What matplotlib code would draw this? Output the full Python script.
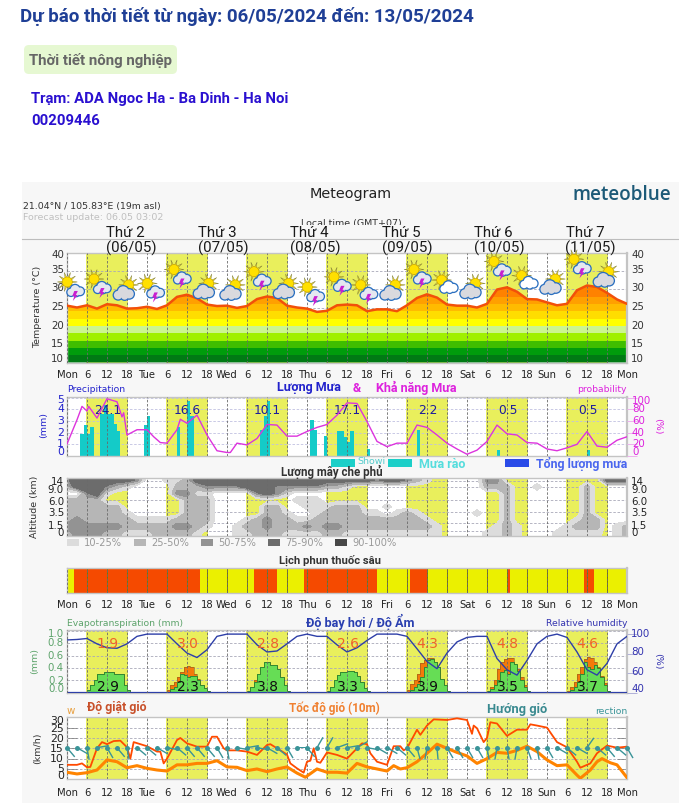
# -*- coding: utf-8 -*-
"""
Meteogram page, 7 days, time axis in hours from Monday 00:00
"""
import numpy as np
from matplotlib import pyplot as plt
from matplotlib.patches import Circle, FancyBboxPatch, Polygon, Rectangle
from matplotlib.transforms import Bbox

W, H = 679, 807

# time axes
hours_3h = list(range(0, 169, 3))
tick_hours = list(range(0, 169, 6))
tick_labels = ['Mon', '6', '12', '18', 'Tue', '6', '12', '18', 'Wed', '6', '12', '18', 'Thu', '6', '12', '18',
               'Fri', '6', '12', '18', 'Sat', '6', '12', '18', 'Sun', '6', '12', '18', 'Mon']
day_starts = [5.7, 29.7, 53.7, 77.7, 101.7, 125.7, 149.7]
day_ends = [18.2, 42.2, 66.2, 90.2, 114.2, 138.2, 162.2]
day_names = ['Thứ 2', 'Thứ 3', 'Thứ 4', 'Thứ 5', 'Thứ 6', 'Thứ 7']
day_dates = ['(06/05)', '(07/05)', '(08/05)', '(09/05)', '(10/05)', '(11/05)']

# temperature
temp = [25.5, 25.0, 25.6, 24.7, 25.9, 25.6, 24.7, 24.8, 25.2, 24.6, 25.6, 27.9, 28.5, 27.5, 25.8, 25.4,
        25.5, 24.9, 25.4, 27.3, 28.0, 27.6, 25.5, 25.0, 24.7, 23.8, 24.1, 25.6, 25.8, 25.6, 24.0, 24.5,
        24.5, 24.0, 25.6, 27.6, 28.6, 27.7, 25.8, 25.5, 25.5, 25.0, 26.0, 29.9, 30.5, 29.3, 27.3, 27.2,
        26.4, 25.6, 26.0, 29.7, 31.0, 30.6, 29.0, 27.2, 26.0]
temp_bands = [10, 12, 14, 16, 18, 20, 22, 24, 26, 28, 32]
temp_colors = ['#007a14', '#009c0c', '#3fbe00', '#a0f000', '#ccf590', '#ffff00', '#ffdd00', '#ffbb00',
               '#ffa000', '#ff8200']

# icons
icon_hours = [1, 9, 17, 25, 33, 41, 49, 57, 65, 73, 81, 89, 97, 105, 113, 121, 129, 137, 145, 153, 161]
icon_temp = [30.6, 31.4, 29.8, 30.2, 34.0, 30.2, 29.8, 33.4, 30.2, 29.2, 32.0, 29.8, 29.8, 34.0, 31.4,
             30.2, 36.2, 32.6, 31.4, 36.8, 33.4]
icon_kinds = ['storm', 'storm', 'dark', 'storm', 'storm', 'dark', 'dark', 'storm', 'dark', 'storm', 'storm',
              'storm', 'dark', 'storm', 'light', 'dark', 'storm', 'light', 'dark', 'storm', 'dark']

# precipitation
rain_hours = [4, 5, 6, 7, 10, 11, 12, 13, 14, 15, 23, 24, 33, 36, 37, 58, 59, 60, 73, 74, 77,
              81, 82, 83, 84, 85, 90, 105, 129, 156]
rain_mm = [1.9, 2.65, 1.9, 2.45, 3.6, 4.4, 3.6, 3.6, 2.75, 2.15, 2.65, 3.45, 2.45, 4.7, 3.4, 2.2, 3.4, 4.7,
           3.1, 2.2, 1.75, 2.15, 2.15, 1.65, 1.2, 2.1, 0.6, 2.2, 0.5, 0.5]
rain_sum = ['24.1', '16.6', '10.1', '17.1', '2.2', '0.5', '0.5']
prob_hours = [0, 3, 4.5, 6, 6.5, 9, 12, 15, 16.5, 17, 18, 21, 24, 26, 28, 30, 33, 34, 36, 39, 42, 45, 48, 49,
              51, 54, 57, 60, 63, 66, 69, 72, 75, 78, 81, 84, 87, 90, 93, 96, 99, 102, 105, 108, 111, 114,
              117, 120, 123, 126, 129, 132, 135, 138, 141, 144, 147, 150, 153, 156, 159, 162, 165, 168]
prob = [20.6, 62, 85, 77, 85, 65, 98, 93, 67, 74, 36, 45, 45, 33, 23, 22, 45, 63, 56, 70, 36, 9, 6, 6,
        22, 19, 30, 54, 53, 34, 34, 42, 49, 54, 70, 91, 90, 59, 25, 16, 22, 22, 53, 49, 36, 22,
        12, 3, 10, 25, 53, 38, 36, 23, 22, 12, 9, 14, 20, 42, 17, 15, 27, 33]

# cloud cover class per altitude row (top to bottom), 3 hourly
cloud_rows = [
    '34444443' '00112444' '44444444' '44444443' '44321000' '00330000' '00000044' '4',
    '24443210' '00022233' '33444333' '33221000' '00000000' '00222001' '00002000' '0',
    '00341000' '00033110' '00034310' '00000000' '00000000' '00002000' '00002000' '0',
    '22220000' '00002220' '00000001' '11000000' '00000000' '00002000' '00002000' '0',
    '22222200' '00002220' '00002200' '11122200' '10000000' '00002000' '00002000' '0',
    '22222210' '00002220' '00002210' '01222211' '01210000' '01002000' '00002000' '0',
    '23222221' '11122220' '00123221' '12222222' '22221000' '00002000' '00012200' '0',
    '33333322' '22233210' '01223222' '32332222' '22222100' '00012100' '00122201' '2',
    '23332211' '12222100' '01122211' '11221111' '11111100' '00112100' '01111101' '2',
]
cloud_colors = ['#dcdcdc', '#b6b6b6', '#939393', '#6c6c6c', '#474747']
cloud_ticks = ['14', '9.0', '6.0', '3.5', '1.5', '0']
cloud_legend = ['10-25%', '25-50%', '50-75%', '75-90%', '90-100%']

# spraying windows, orange = no spray
spray_start = [2, 56, 71, 103, 132, 155]
spray_stop = [40, 63, 93, 108, 133, 158]

# evapotranspiration, hourly from 6 to 18 each day
et_days = [6, 30, 54, 78, 102, 126, 150]
et_actual = [
    [.05, .12, .20, .30, .30, .34, .33, .33, .31, .31, .31, .12, .04],
    [.01, .06, .10, .17, .30, .28, .26, .27, .27, .20, .13, .07, .02],
    [.03, .10, .18, .30, .42, .50, .50, .45, .45, .38, .25, .12, .03],
    [.03, .10, .20, .28, .33, .34, .35, .35, .33, .27, .17, .08, .02],
    [.01, .05, .10, .14, .25, .42, .53, .55, .50, .42, .23, .12, .02],
    [.02, .06, .13, .20, .33, .36, .30, .50, .47, .35, .20, .10, .02],
    [.01, .05, .10, .18, .30, .50, .42, .38, .45, .40, .25, .13, .02],
]
et_potential = [
    [.05, .12, .20, .30, .30, .34, .33, .33, .31, .31, .31, .12, .04],
    [.04, .12, .18, .26, .34, .42, .43, .42, .31, .23, .13, .07, .02],
    [.03, .10, .20, .31, .42, .50, .50, .45, .45, .38, .25, .12, .03],
    [.03, .10, .20, .28, .33, .34, .35, .35, .33, .27, .17, .08, .02],
    [.04, .14, .20, .31, .48, .53, .56, .57, .50, .42, .23, .12, .02],
    [.03, .10, .20, .38, .50, .55, .57, .57, .45, .38, .25, .12, .03],
    [.03, .10, .18, .30, .42, .55, .58, .57, .50, .42, .27, .15, .03],
]
et_potential_sum = ['1.9', '3.0', '2.8', '2.6', '4.3', '4.8', '4.6']
et_actual_sum = ['2.9', '2.3', '3.8', '3.3', '3.9', '3.5', '3.7']
humidity = [94, 94.5, 95.5, 90, 86, 85.5, 90, 97.7, 100, 100, 100, 90, 80.6, 76, 84, 97.7,
            100, 100, 100, 89, 81.7, 82.7, 90, 97.7, 100, 97.7, 97.7, 89, 81.7, 86, 93.5, 100,
            100, 100, 97.7, 85, 72, 64.6, 80.6, 92, 96.6, 97.7, 97.7, 75, 63.5, 58, 73, 90,
            97.7, 100, 96.6, 81.7, 63.5, 58, 70, 90, 97.7]

# wind
gust_hours = [0, 3, 4.5, 6, 7, 9, 10.5, 12, 14, 16, 18, 19, 20, 24, 27, 28, 29, 30, 33, 34, 36, 39, 42, 43.5, 45,
              47, 48, 51, 54, 57, 60, 61, 63, 66, 67, 69, 71, 72, 73, 74, 75, 76, 78, 81, 84, 87, 88.5, 90, 91,
              93, 96, 98, 100, 101, 102, 105, 106, 108, 110, 114, 117, 120, 121.5, 122, 123, 125, 126, 127, 129,
              132, 135, 138, 139, 141, 144, 147, 150, 153, 154, 157, 159, 162, 165, 168]
gust = [7, 7, 7.7, 5.8, 6, 15, 18, 17, 18.5, 18.7, 15.5, 10, 18, 16, 13.4, 13.4, 7.7, 10, 19, 20, 17.4, 15.8,
        15.8, 20.6, 20.6, 15, 14, 14, 13.4, 11.8, 16.6, 17, 15, 12, 7.7, 5.3, 3.2, 8.5, 9, 15, 8.5, 8, 13,
        11.8, 10, 15, 17.4, 17, 12.6, 8.5, 7, 16, 16, 14, 15, 24, 21.5, 26, 29, 28.7, 29.5, 28.7, 22, 26, 24.7,
        18, 20, 27.6, 27, 21, 24, 24, 26.6, 26, 25, 18, 15.5, 8.5, 5.6, 7.7, 12.6, 16.3, 15.3, 15.8]
speed_hours = [0, 3, 6, 9, 12, 15, 18, 21, 24, 27, 30, 33, 36, 39, 42, 45, 48, 51, 54, 57, 60, 63, 66, 69, 71.5,
               75, 78, 81, 84, 87, 90, 93, 96, 98, 100, 102, 105, 108, 111, 114, 117, 120, 123, 126, 129, 132,
               135, 138, 141, 144, 147, 150, 153, 154, 157, 159, 160.5, 163, 165, 168]
speed = [3.4, 2.6, 3.2, 4.5, 9.4, 8.5, 5.6, 6.6, 5.3, 4.5, 4, 7, 7, 7.7, 7.7, 9, 6, 5.8, 4.2, 5, 3.7, 5, 6, 3, 1,
         5, 3.4, 3.4, 3, 7.7, 6, 5, 4, 6.6, 5, 5.6, 8.5, 12.6, 17, 15, 13, 11.3, 7.7, 10, 13, 12.6,
         14, 16, 13.4, 9.4, 6.6, 7, 2, 0.5, 4.5, 8.5, 10, 8, 7, 0.8]
wind_dir = [140, 120, 170, 80, 150, 140, 170, 130, 130, 120, 100, 130, 140, 140, 140, 150,
            170, 100, 80, 100, 120, 130, 150, 90, 140, 30, 30, 70, 80, 60, 100, 120,
            120, 130, 140, 165, 190, 175, 150, 150, 150, 150, 170, 190, 170, 190, 160, 170,
            150, 120, 130, 120, 35, 130, 140, 130, 150]

# colours
BG = '#f7f7f7'
SUN = '#e9ef5c'
BLUE = '#2222cc'
MAGENTA = '#dd22dd'
GREEN_TXT = '#5da36b'
TEAL = '#3a9498'
RED = '#ff4a00'
ORANGE = '#ff8400'

plt.rcParams['font.family'] = ['DejaVu Sans']
fig = plt.figure(figsize=(W / 100, H / 100), dpi=100, facecolor='white')

# overlay in pixel coordinates for the page furniture
back = fig.add_axes([0, 0, 1, 1], zorder=0)
back.set_xlim(0, W)
back.set_ylim(H, 0)
back.axis('off')
over = fig.add_axes([0, 0, 1, 1], zorder=20)
over.set_xlim(0, W)
over.set_ylim(H, 0)
over.axis('off')
over.patch.set_alpha(0)


def hour_px(h):
    return 67 + h * 560 / 168


def panel(top, bottom, ylim, yvals, sun=True, hgrid='#a8a8b8'):
    ax = fig.add_axes([67 / W, 1 - bottom / H, 560 / W, (bottom - top) / H], zorder=5)
    ax.set_xlim(0, 168)
    ax.set_ylim(*ylim)
    ax.set_facecolor('white')
    if sun:
        for s, e in zip(day_starts, day_ends):
            ax.axvspan(s, e, color=SUN, lw=0, zorder=0)
    ax.set_xticks(tick_hours)
    ax.set_xticklabels([])
    ax.set_yticks(yvals)
    ax.set_yticklabels([])
    ax.tick_params(length=0)
    # horizontal dashes sit low, under the temperature colours, verticals stay on top
    for y in yvals:
        ax.axhline(y, color=hgrid, lw=0.6, ls=(0, (3, 2)), zorder=0.5)
    for h in tick_hours:
        ax.axvline(h, color='#6a6a6a', lw=0.6, ls=(0, (3, 2)), zorder=2.8)
    for side in ['top', 'left', 'right', 'bottom']:
        ax.spines[side].set_color('#c4c4c4')
        ax.spines[side].set_linewidth(1.0)
    ax.spines['right'].set_linewidth(1.6)
    return ax


def xlabels(y):
    for h, lab in zip(tick_hours, tick_labels):
        over.text(hour_px(h), y, lab, ha='center', va='center', fontsize=7.2, color='#222222')


def draw_sun(cx, cy, r=5.0):
    for a in np.arange(0, 360, 36):
        a0 = np.radians(a)
        da = np.radians(14)
        over.add_patch(Polygon([[cx + (r - 1) * np.cos(a0 - da), cy + (r - 1) * np.sin(a0 - da)],
                                [cx + (r + 5) * np.cos(a0), cy + (r + 5) * np.sin(a0)],
                                [cx + (r - 1) * np.cos(a0 + da), cy + (r - 1) * np.sin(a0 + da)]],
                               fc='#f2dc28', ec='#77773c', lw=0.3, zorder=3))
    over.add_patch(Circle((cx, cy), r, fc='#ffe000', ec='#c8a000', lw=0.4, zorder=4))


def draw_cloud(cx, cy, sx, fc):
    # outline first, fill on top, so the lobes read as one cloud
    lobes = [(-6.5, 2.2, 4.3), (-1.5, -1.2, 5.4), (4.5, 1, 4.6), (0, 3.2, 3.6)]
    for dx, dy, r in lobes:
        over.add_patch(Circle((cx + dx * sx, cy + dy * sx), r * sx + 1.3, fc='#2a6fc0', ec='none', zorder=5))
    for dx, dy, r in lobes:
        over.add_patch(Circle((cx + dx * sx, cy + dy * sx), r * sx, fc=fc, ec='none', zorder=6))


def draw_icon(cx, cy, kind):
    if kind == 'storm':
        draw_sun(cx - 3, cy - 5)
        draw_cloud(cx + 6, cy + 3.5, 0.82, '#e4e8f0')
        over.add_patch(Polygon([[cx + 4, cy + 4], [cx + 7.5, cy + 4], [cx + 5.5, cy + 8], [cx + 7.5, cy + 8],
                                [cx + 2.5, cy + 14], [cx + 4, cy + 9], [cx + 2, cy + 9]],
                               fc='#c81fd0', ec='none', zorder=7))
    elif kind == 'dark':
        draw_sun(cx + 5, cy - 5)
        draw_cloud(cx + 1, cy + 3, 1.0, '#d9d9de')
    else:
        draw_sun(cx - 2, cy - 4)
        draw_cloud(cx + 6, cy + 3, 0.85, '#ffffff')


# page header
over.text(20, 17, 'Dự báo thời tiết từ ngày: 06/05/2024 đến: 13/05/2024', family='Roboto', weight='bold',
          fontsize=13.5, color='#1f3f96', va='center')
back.add_patch(FancyBboxPatch((28, 49), 145, 21, boxstyle='round,pad=4,rounding_size=5', fc='#e6f8d2', ec='none'))
over.text(29, 61, 'Thời tiết nông nghiệp', family='Roboto', weight='bold', fontsize=10.8, color='#666666', va='center')
over.text(31, 99, 'Trạm: ADA Ngoc Ha - Ba Dinh - Ha Noi', family='Roboto', weight='bold', fontsize=10.75,
          color='#2a10d0', va='center')
over.text(31, 121, '00209446', family='Roboto', weight='bold', fontsize=10.75, color='#2a10d0', va='center')

# chart header
back.add_patch(Rectangle((22, 182), W - 22, 621, fc=BG, ec='none'))
back.plot([22, W], [238.5, 238.5], color='#bdbdbd', lw=0.8)
over.text(351, 194, 'Meteogram', ha='center', va='center', fontsize=10.4, color='#222222')
over.text(671, 195, 'meteoblue', ha='right', va='center', fontsize=13.6, color='#1d5a78', weight=600,
          family='Open Sans')
over.text(23, 207, '21.04°N / 105.83°E (19m asl)', va='center', fontsize=6.75, color='#333333')
over.text(23, 217, 'Forecast update: 06.05 03:02', va='center', fontsize=6.8, color='#c0c0c0')
# only the top half of this label shows in the picture
local = over.text(351, 223.5, 'Local time (GMT+07)', ha='center', va='center', fontsize=6.8, color='#333333')
local.set_clip_on(True)
local.set_clip_box(Bbox.from_extents(250, H - 224.5, 450, H - 210))
for i, (name, date) in enumerate(zip(day_names, day_dates)):
    x = 106 + i * 91.9
    over.text(x, 233, name, family='Roboto', fontsize=10.8, color='#1a1a1a', va='center')
    over.text(x, 248, date, family='Roboto', fontsize=10.8, color='#1a1a1a', va='center')

# temperature, colour bands clipped to the area under the curve
ax_t = panel(252.5, 362.5, (10, 40), [10, 15, 20, 25, 30, 35, 40])
under = ax_t.fill_between(hours_3h, 10, temp, color='none', lw=0)
for lo, hi, c in zip(temp_bands[:-1], temp_bands[1:], temp_colors):
    band = ax_t.axhspan(lo, hi, color=c, lw=0, zorder=1.5)
    band.set_clip_path(under.get_paths()[0], transform=ax_t.transData)
ax_t.plot(hours_3h, temp, color='#f2500a', lw=1.8, zorder=3)
for lab, y in zip(['10', '15', '20', '25', '30', '35', '40'], [359, 344, 326, 307, 288, 270, 255]):
    over.text(64, y, lab, ha='right', va='center', fontsize=7.4, color='#333333')
    over.text(631, y, lab, ha='left', va='center', fontsize=7.4, color='#333333')
over.text(38, 307, 'Temperature (°C)', rotation=90, ha='center', va='center', fontsize=6.8, color='#333333')
xlabels(375)
for h, tt, kind in zip(icon_hours, icon_temp, icon_kinds):
    draw_icon(hour_px(h), 362.5 - (tt - 10) * 110 / 30, kind)

# precipitation
ax_r = panel(396.7, 456, (0, 5.08), [0, 1, 2, 3, 4, 5], hgrid='#c0c0e0')
ax_r.bar(rain_hours, rain_mm, width=1.0, align='edge', color='#14cbc8', lw=0, zorder=2)
ax_p = ax_r.twinx()
ax_p.set_zorder(6)
ax_p.set_ylim(0, 101.6)
ax_p.plot(prob_hours, prob, color='#dd33dd', lw=1.0, zorder=3)
ax_p.set_yticks([0, 20, 40, 60, 80, 100])
ax_p.set_yticklabels([])
ax_p.tick_params(length=7, color='#eeb0ee', width=0.7)
for side in ax_p.spines:
    ax_p.spines[side].set_visible(False)
for lab, y in zip(['5', '4', '3', '2', '1', '0'], [400, 409, 421, 433, 444, 452]):
    over.text(64, y, lab, ha='right', va='center', fontsize=7.8, color=BLUE)
for lab, y in zip(['100', '80', '60', '40', '20', '0'], [401, 409, 421, 433, 444, 452]):
    over.text(632, y, lab, ha='left', va='center', fontsize=7.4, color=MAGENTA)
over.text(44, 425, '(mm)', rotation=90, ha='center', va='center', fontsize=6.8, color=BLUE)
over.text(658, 426, '(%)', rotation=-90, ha='center', va='center', fontsize=6.8, color=MAGENTA)
over.text(67, 390, 'Precipitation', va='center', fontsize=6.7, color=BLUE)
over.text(627, 390, 'probability', ha='right', va='center', fontsize=6.7, color=MAGENTA)
over.text(277, 388, 'Lượng Mưa', family='Roboto', weight='bold', fontsize=9.0, color='#2222cc', va='center')
over.text(353, 388, '&', family='Roboto', weight='bold', fontsize=9.0, color=MAGENTA, va='center')
over.text(376, 388, 'Khả năng Mưa', family='Roboto', weight='bold', fontsize=9.0, color=MAGENTA, va='center')
for h, lab in zip(et_days, rain_sum):
    ax_r.text(h + 6.2, 3.88, lab, ha='center', va='center', fontsize=8.8, color='#1c1c9a', zorder=6)

# rain legend
back.add_patch(Rectangle((331, 459), 24, 7.5, fc='#1ccfc8', ec='none'))
over.text(357, 461.5, 'Showi', fontsize=6.8, va='center', color='#55cccc')
back.add_patch(Rectangle((388, 459), 23.5, 7.5, fc='#1ccfc8', ec='none'))
over.text(419, 464, 'Mưa rào', family='Roboto', weight='bold', fontsize=9.0, va='center', color='#55dddd')
back.add_patch(Rectangle((505, 459), 24, 7.5, fc='#2a4be8', ec='none'))
over.text(536, 464, 'Tổng lượng mưa', family='Roboto', weight='bold', fontsize=8.9, va='center', color='#4a66ee')

# clouds, edge rows repeated so the contours reach the frame
ax_c = panel(477.7, 536.3, (-0.45, 8.35), [0.4, 1.5, 3.2, 5, 6.9, 7.9])
grid = np.array([[int(ch) for ch in row] for row in cloud_rows], dtype=float)
grid = np.pad(grid, ((1, 1), (0, 0)), mode='edge')
ax_c.contourf(hours_3h, np.arange(9, -2, -1), grid, levels=[0.5, 1.5, 2.5, 3.2, 4.5, 5.5], colors=cloud_colors, zorder=2)
for lab, y in zip(cloud_ticks, [482, 490, 502, 513, 526, 533]):
    over.text(64, y, lab, ha='right', va='center', fontsize=7.4, color='#222222')
    over.text(631, y, lab, ha='left', va='center', fontsize=7.4, color='#222222')
over.text(35, 507, 'Altitude (km)', rotation=90, ha='center', va='center', fontsize=6.8, color='#333333')
over.text(332, 472, 'Lượng mây che phủ', family='Roboto', weight='bold', fontsize=8.3, ha='center', va='center', color='#333333')
for i, lab in enumerate(cloud_legend):
    x = 67 + i * 67
    back.add_patch(Rectangle((x, 539), 12, 7, fc=cloud_colors[i], ec='none'))
    over.text(x + 17, 542.5, lab, fontsize=7.1, va='center', color='#999999')

# spray calendar
ax_s = panel(567.7, 592.7, (0, 1), [], sun=False)
ax_s.set_facecolor('#ebf000')
for s, e in zip(spray_start, spray_stop):
    ax_s.axvspan(s, e, color='#f54a00', lw=0, zorder=1)
for h in tick_hours:
    ax_s.axvline(h, color='#77770a', lw=0.7, zorder=2)
over.text(330, 560, 'Lịch phun thuốc sâu', family='Roboto', weight='bold', fontsize=8.1, ha='center', va='center', color='#333333')
xlabels(605)

# evapotranspiration and humidity
ax_e = panel(630, 692.7, (0, 1.016), [.2, .4, .6, .8, 1.0])
for start, act, pot in zip(et_days, et_actual, et_potential):
    h = np.arange(start, start + 14)
    ax_e.fill_between(h, list(pot) + [0], step='post', color='#f47a0a', lw=0, zorder=2)
    ax_e.step(h, list(pot) + [0], where='post', color='#8a5a20', lw=0.4, zorder=2.1)
    ax_e.fill_between(h, list(act) + [0], step='post', color='#66dd55', lw=0, zorder=2.2)
    ax_e.step(h, list(act) + [0], where='post', color='#2a7a2a', lw=0.6, zorder=2.4)
ax_e.axhline(0.004, color='#2e3fa8', lw=0.9, zorder=2.6)
for lab, y in zip(['1.0', '0.8', '0.6', '0.4', '0.2', '0.0'], [634, 643, 656, 668, 681, 689]):
    over.text(64, y, lab, ha='right', va='center', fontsize=7.4, color=GREEN_TXT)
for lab, y in zip(['100', '80', '60', '40'], [634, 652, 672, 689]):
    over.text(631, y, lab, ha='left', va='center', fontsize=7.4, color='#3434b0')
ax_h = ax_e.twinx()
ax_h.set_zorder(6)
ax_h.set_ylim(40, 104.2)
ax_h.plot(hours_3h, humidity, color='#2e3fa8', lw=1.0)
ax_h.set_yticks([40, 60, 80, 100])
ax_h.set_yticklabels([])
ax_h.tick_params(length=7, color='#b0b0d8', width=0.7)
for side in ax_h.spines:
    ax_h.spines[side].set_visible(False)
for h, p, a in zip(et_days, et_potential_sum, et_actual_sum):
    ax_h.text(h + 6.2, 40 + 0.77 * 64.2, p, ha='center', va='center', fontsize=10, color='#f0622a')
    ax_h.text(h + 6.2, 40 + 0.09 * 64.2, a, ha='center', va='center', fontsize=10, color='#111111')
over.text(35, 661, '(mm)', rotation=90, ha='center', va='center', fontsize=6.8, color=GREEN_TXT)
over.text(658, 661, '(%)', rotation=-90, ha='center', va='center', fontsize=6.8, color='#3434b0')
over.text(67, 624, 'Evapotranspiration (mm)', va='center', fontsize=6.7, color=GREEN_TXT)
over.text(627, 624, 'Relative humidity', ha='right', va='center', fontsize=6.7, color='#3434b0')
over.text(306, 622, 'Độ bay hơi / Độ Ẩm', family='Roboto', weight='bold', fontsize=9.1, va='center', color='#2a3fb0')

# wind
ax_w = panel(717.3, 779.3, (0, 30), [5, 10, 15, 20, 25])
ax_w.set_yticks([5, 10, 15, 20, 25, 30])
ax_w.tick_params(axis='y', direction='in', left=True, right=True, length=7, color='#777777', width=0.5)
ax_w.plot(gust_hours, gust, color=RED, lw=1.3, zorder=3)
ax_w.plot(speed_hours, speed, color=ORANGE, lw=2.2, zorder=3.2)
d = np.radians(wind_dir)
ax_w.quiver(hours_3h, np.full(len(hours_3h), 15.3), np.sin(d), np.cos(d), angles='uv', scale_units='dots', scale=1 / 12,
            width=1.4, units='dots', headwidth=1, headlength=0, headaxislength=0, color=TEAL, zorder=4, clip_on=False)
ax_w.plot(hours_3h, np.full(len(hours_3h), 15.3), 'o', ms=3.6, color=TEAL, mew=0, zorder=4.2, clip_on=False)
for lab, y in zip(['30', '25', '20', '15', '10', '5', '0'], [721, 729, 739, 749, 759, 769, 776]):
    over.text(64, y, lab, ha='right', va='center', fontsize=7.8, color='#222222')
over.text(38, 748, '(km/h)', rotation=90, ha='center', va='center', fontsize=6.8, color='#333333')
over.text(67, 711, 'w', va='center', fontsize=7.4, color='#e8a040')
over.text(87, 708, 'Độ giật gió', family='Roboto', weight='bold', fontsize=8.9, va='center', color='#c8502a')
over.text(289, 708, 'Tốc độ gió (10m)', family='Roboto', weight='bold', fontsize=8.5, va='center', color='#f08030')
over.text(487, 709, 'Hướng gió', family='Roboto', weight='bold', fontsize=9.3, va='center', color='#3a8a90')
over.text(627, 711, 'rection', ha='right', va='center', fontsize=6.7, color=TEAL)
xlabels(793)

fig.savefig('out.png', dpi=100, facecolor='white')
